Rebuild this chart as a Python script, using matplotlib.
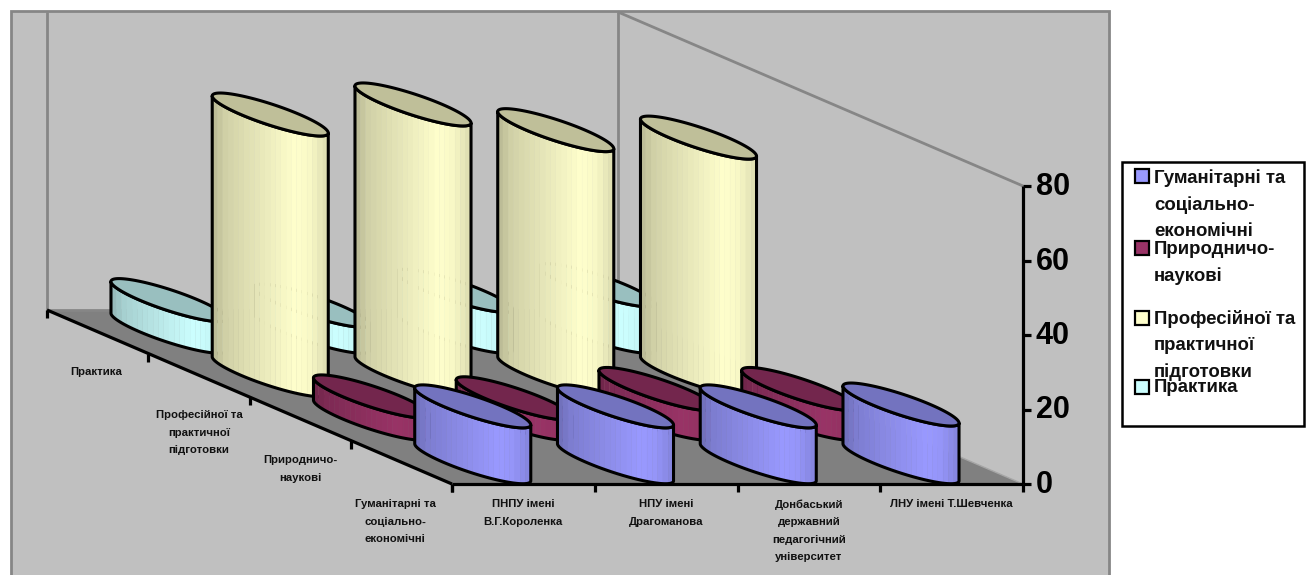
import numpy as np
import matplotlib
matplotlib.use("Agg")
import matplotlib.pyplot as plt
from matplotlib.patches import Polygon, Rectangle

plt.rcParams["font.family"] = ["Liberation Sans", "DejaVu Sans"]
plt.rcParams["font.weight"] = "bold"

# ---------- Data ----------
universities = ["ПНПУ імені\nВ.Г.Короленка", "НПУ імені\nДрагоманова",
                "Донбаський\nдержавний\nпедагогічний\nуніверситет", "ЛНУ імені Т.Шевченка"]
series_names = ["Гуманітарні та\nсоціально-\nекономічні", "Природничо-\nнаукові",
                "Професійної та\nпрактичної\nпідготовки", "Практика"]
humanities = [15, 15, 15, 15.5]
natural = [6, 5.5, 8, 8]
professional = [70, 72.7, 65.8, 63.8]
practice = [8.5, 7, 11, 12.5]
series_values = [humanities, natural, professional, practice]
series_colors = ["#9999FF", "#993366", "#FFFFCC", "#CCFFFF"]
value_ticks = [0, 20, 40, 60, 80]

# ---------- Oblique projection, floor and value axis ----------
ORIGIN = np.array([452.0, 484.0])
CAT_STEP = np.array([142.75, 0.0])
SER_STEP = np.array([-101.25, -43.5])
PX_PER_UNIT = 3.725
R_CAT = 0.206
R_SER = 0.494

GREY = "#868686"
n_cat = len(universities)
n_ser = len(series_names)
v_max = value_ticks[-1]


def project(cat, ser, val=0.0):
    p = ORIGIN + np.multiply.outer(cat, CAT_STEP) + np.multiply.outer(ser, SER_STEP)
    return p - np.multiply.outer(val, [0.0, PX_PER_UNIT])


def shade(color, k):
    return tuple(np.clip(np.array(matplotlib.colors.to_rgb(color)) * k, 0, 1))


def band_level(u):
    # dark on the left, brightest a bit right of centre
    return np.interp(u, [0, 0.12, 0.72, 0.85, 1], [0.72, 0.82, 1.0, 0.97, 0.86])


def draw_cylinder(ax, cat, ser, value, color, z):
    t = np.linspace(0, 2 * np.pi, 361)
    cx = cat + 0.5 + R_CAT * np.cos(t)
    cy = ser + 0.5 + R_SER * np.sin(t)
    base = project(cx, cy)
    top = project(cx, cy, value)
    i_left, i_right = base[:, 0].argmin(), base[:, 0].argmax()

    # front half of the base, walked left to right
    idx = np.arange(i_left, i_left + 361) % 360
    idx = idx[:np.where(idx == i_right)[0][0] + 1]
    if base[idx, 1].mean() < base[:, 1].mean():
        idx = np.arange(i_left, i_left - 361, -1) % 360
        idx = idx[:np.where(idx == i_right)[0][0] + 1]
    front = base[idx]
    front_top = top[idx]
    x0, x1 = front[0, 0], front[-1, 0]

    edges = np.linspace(x0, x1, 23)
    for a, b in zip(edges[:-1], edges[1:]):
        xs = np.linspace(a, b, 5)
        lo = np.interp(xs, front[:, 0], front[:, 1])
        hi = np.interp(xs, front_top[:, 0], front_top[:, 1])
        pts = np.r_[np.c_[xs, lo], np.c_[xs[::-1], hi[::-1]]]
        col = shade(color, band_level(((a + b) / 2 - x0) / (x1 - x0)))
        ax.add_patch(Polygon(pts, closed=True, fc=col, ec=col, lw=0.3, zorder=z))

    outline = np.r_[front, front_top[::-1]]
    ax.add_patch(Polygon(outline, closed=True, fill=False, ec="black", lw=2.2,
                         joinstyle="round", zorder=z + 0.2))
    ax.add_patch(Polygon(top, closed=True, fc=shade(color, 0.75), ec="black", lw=2.2,
                         joinstyle="round", zorder=z + 0.3))


# ---------- Figure ----------
fig = plt.figure(figsize=(13.12, 5.75), dpi=100, facecolor="white")
ax = fig.add_axes([0, 0, 1, 1])
ax.set_xlim(0, 1312)
ax.set_ylim(575, 0)
ax.axis("off")

# chart area
ax.add_patch(Rectangle((11, 11), 1098, 600, fc="#C0C0C0", ec=GREY, lw=2, zorder=0))

# floor and walls
floor = np.array([project(0, 0), project(n_cat, 0), project(n_cat, n_ser), project(0, n_ser)])
ax.add_patch(Polygon(floor, closed=True, fc="#808080", ec="none", zorder=1))
back_left = project(0, n_ser)
back_right = project(n_cat, n_ser)
back_left_top = project(0, n_ser, v_max)
back_right_top = project(n_cat, n_ser, v_max)
side_top = project(n_cat, 0, v_max)
for a, b in [(back_left, back_left_top), (back_right, back_right_top), (back_right_top, side_top),
             (back_left, back_right)]:
    ax.plot([a[0], b[0]], [a[1], b[1]], color=GREY, lw=2, solid_capstyle="butt", zorder=1.5)

# thin lighter edge along the right side of the floor
edge_a, edge_b = project(n_cat, 0), project(n_cat, n_ser)
ax.plot([edge_a[0], edge_b[0]], [edge_a[1], edge_b[1]], color="#A6A6A6", lw=1, zorder=1.4)

# cylinders, back row first
for ser in range(n_ser - 1, -1, -1):
    for cat in range(n_cat):
        draw_cylinder(ax, cat, ser, series_values[ser][cat], series_colors[ser],
                      z=2 + (n_ser - ser))

# axes
axis_style = dict(color="black", lw=2.3, solid_capstyle="butt", zorder=10)
p0, p1 = project(0, 0), project(n_cat, 0)
ax.plot([p0[0], p1[0]], [p0[1], p1[1]], **axis_style)
for c in range(n_cat + 1):
    p = project(c, 0)
    ax.plot([p[0], p[0]], [p[1], p[1] + 8], **axis_style)
p2 = project(0, n_ser)
ax.plot([p0[0], p2[0]], [p0[1], p2[1]], **axis_style)
for s in range(n_ser + 1):
    p = project(0, s)
    ax.plot([p[0], p[0]], [p[1], p[1] + 8], **axis_style)
ptop = project(n_cat, 0, v_max)
ax.plot([p1[0], ptop[0]], [p1[1], ptop[1]], **axis_style)
for v in value_ticks:
    p = project(n_cat, 0, v)
    ax.plot([p[0], p[0] + 8], [p[1], p[1]], **axis_style)
    ax.text(p[0] + 13, p[1] + 1, str(v), fontsize=22, ha="left", va="center", color="black", zorder=10)

# category and series labels
small = dict(fontsize=8.2, ha="center", va="top", color="#111111", linespacing=1.95, zorder=10)
for c, name in enumerate(universities):
    p = project(c + 0.5, 0)
    ax.text(p[0], 499, name, **small)
series_label_pos = [(395, 499), (300, 455), (199, 410), (96, 367)]
for (x, y), name in zip(series_label_pos, series_names):
    ax.text(x, y, name, **small)

# legend
ax.add_patch(Rectangle((1122, 162), 182, 264, fc="white", ec="black", lw=1.8, zorder=10))
legend_rows = [(169, 170), (241, 242), (311, 311), (380, 380)]
for (box_y, text_y), name, color in zip(legend_rows, series_names, series_colors):
    ax.add_patch(Rectangle((1135, box_y), 14, 14, fc=color, ec="black", lw=1.6, zorder=11))
    ax.text(1154, text_y - 1, name, fontsize=13.4, ha="left", va="top", color="#111111",
            linespacing=1.68, zorder=11)

fig.savefig("out.png", dpi=100, facecolor="white")
